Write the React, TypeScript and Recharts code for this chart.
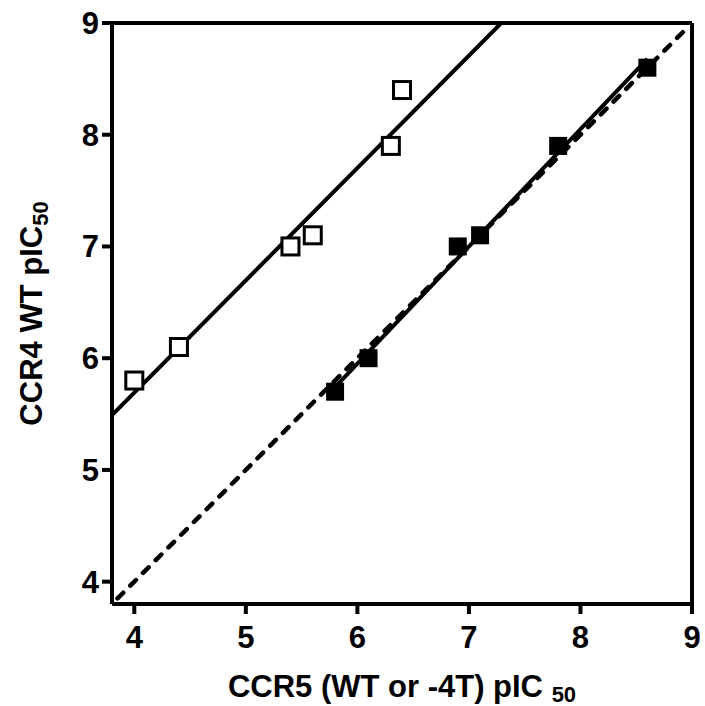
import { ScatterChart, Scatter, XAxis, YAxis, ReferenceLine } from "recharts";

// open squares
const openX = [4.0, 4.4, 5.4, 5.6, 6.3, 6.4];
const openY = [5.8, 6.1, 7.0, 7.1, 7.9, 8.4];
// filled squares
const filledX = [5.8, 6.1, 6.9, 7.1, 7.8, 8.6];
const filledY = [5.7, 6.0, 7.0, 7.1, 7.9, 8.6];

// fitted lines, endpoints
const openFitX = [3.8, 7.29];
const openFitY = [5.49, 9.0];
const filledFitX = [5.8, 8.6];
const filledFitY = [5.74, 8.68];
const identityX = [3.85, 8.92];
const identityY = [3.85, 8.92];

const ticks = [4, 5, 6, 7, 8, 9];

const zip = (xs: number[], ys: number[]) => xs.map((x, i) => ({ x, y: ys[i] }));

const openData = zip(openX, openY);
const filledData = zip(filledX, filledY);
const openFit = zip(openFitX, openFitY);
const filledFit = zip(filledFitX, filledFitY);
const identity = zip(identityX, identityY);

const FONT = '"Liberation Sans", Arial, sans-serif';

const OpenSquare = (p: any) => (
  <rect x={p.cx - 8.5} y={p.cy - 8.5} width={17} height={17} fill="#fff" stroke="#000" strokeWidth={3} />
);
const FilledSquare = (p: any) => <rect x={p.cx - 9} y={p.cy - 9} width={18} height={18} fill="#000" />;
const NoShape = () => <g />;

const XTitle = (props: any) => {
  const vb = props.viewBox || { x: 112, y: 604, width: 580, height: 102 };
  return (
    <text x={vb.x + vb.width / 2} y={vb.y + vb.height - 9} textAnchor="middle" fontFamily={FONT} fontWeight="bold" fontSize={31} fill="#000">
      CCR5 (WT or -4T) pIC <tspan fontSize={22} dy={5}>50</tspan>
    </text>
  );
};

const YTitle = (props: any) => {
  const vb = props.viewBox || { x: 0, y: 23, width: 112, height: 581 };
  const cx = vb.x + 42;
  const cy = vb.y + vb.height / 2;
  return (
    <text x={cx} y={cy} transform={`rotate(-90, ${cx}, ${cy})`} textAnchor="middle" fontFamily={FONT} fontWeight="bold" fontSize={31} fill="#000">
      CCR4 WT pIC<tspan fontSize={22} dy={6}>50</tspan>
    </text>
  );
};

const tickStyle = { fontSize: 31, fontWeight: "bold", fill: "#000", fontFamily: FONT };
const axisStroke = { stroke: "#000", strokeWidth: 4 };

export default function App() {
  return (
    <div style={{ position: "absolute", left: 0, top: 0, background: "#fff" }}>
      <ScatterChart width={705} height={706} margin={{ top: 23, right: 13, left: 0, bottom: 0 }}>
        <XAxis
          type="number"
          dataKey="x"
          domain={[3.8, 9]}
          ticks={ticks}
          allowDataOverflow
          height={102}
          tickSize={10}
          tickMargin={12}
          tick={tickStyle}
          axisLine={axisStroke}
          tickLine={axisStroke}
          label={<XTitle />}
        />
        <YAxis
          type="number"
          dataKey="y"
          domain={[3.8, 9]}
          ticks={ticks}
          allowDataOverflow
          width={112}
          tickSize={10}
          tickMargin={3}
          tick={tickStyle}
          axisLine={axisStroke}
          tickLine={axisStroke}
          label={<YTitle />}
        />
        <ReferenceLine y={9} stroke="#000" strokeWidth={4} />
        <ReferenceLine x={9} stroke="#000" strokeWidth={4} />
        <Scatter
          data={identity}
          line={{ stroke: "#000", strokeWidth: 4.5, strokeDasharray: "8 10", strokeLinecap: "round" }}
          shape={NoShape}
          isAnimationActive={false}
        />
        <Scatter data={openFit} line={{ stroke: "#000", strokeWidth: 4 }} shape={NoShape} isAnimationActive={false} />
        <Scatter data={filledFit} line={{ stroke: "#000", strokeWidth: 4 }} shape={NoShape} isAnimationActive={false} />
        <Scatter data={openData} shape={OpenSquare} isAnimationActive={false} />
        <Scatter data={filledData} shape={FilledSquare} isAnimationActive={false} />
      </ScatterChart>
    </div>
  );
}
